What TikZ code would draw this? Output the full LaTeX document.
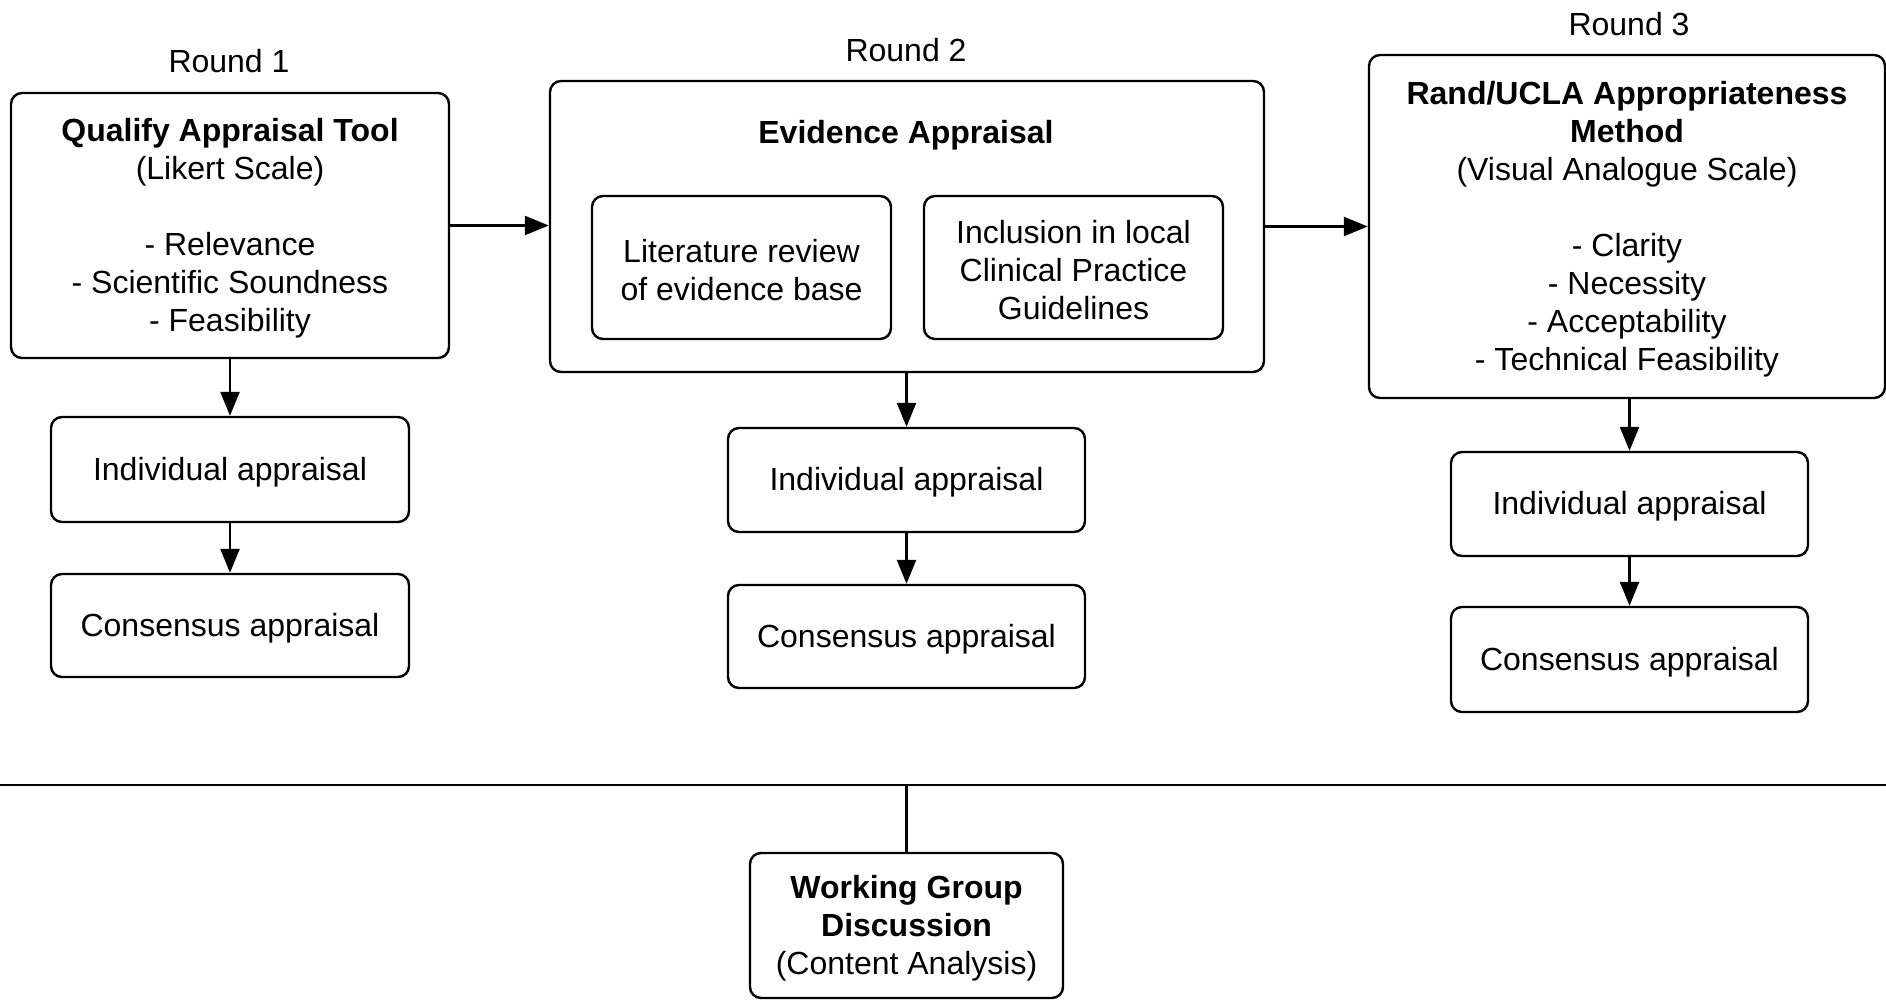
\documentclass[tikz,border=0pt]{standalone}
\usepackage{fontspec}
\setmainfont{Liberation Sans}
\usetikzlibrary{arrows.meta}
\newcommand{\dn}[1]{\raisebox{-2.5pt}[\height][\depth]{#1}}
\begin{document}
\begin{tikzpicture}[x=1pt,y=-1pt,
  txt/.style={font=\fontsize{32}{38}\selectfont, align=center},
  box/.style={draw, line width=2.4pt, rounded corners=11pt, inner sep=0pt, txt},
  conn/.style={line width=2.4pt, -{Triangle[length=24pt,width=19pt]}},
  plain/.style={line width=2.4pt}]
\useasboundingbox (0,0) rectangle (1886,1001);
% Round labels
\node[txt] (r1) at (229,61) {Round 1};
\node[txt] (r2) at (906,50) {Round 2};
\node[txt] (r3) at (1629,24) {Round 3};
% Main boxes
\node[box, minimum width=438pt, minimum height=265pt] (b1) at (230,225.5)
  {\dn{\parbox{430pt}{\centering\textbf{Qualify Appraisal Tool}\\(Likert Scale)\\[38pt]- Relevance\\- Scientific Soundness\\- Feasibility}}};
\node[box, minimum width=714pt, minimum height=291pt] (b2) at (907,226.5) {};
\node[txt] (b2t) at (906,135) {\textbf{Evidence Appraisal}};
\node[box, minimum width=299pt, minimum height=143pt] (lit) at (741.5,267.5)
  {\dn{\parbox{290pt}{\centering Literature review\\of evidence base}}};
\node[box, minimum width=299pt, minimum height=143pt] (inc) at (1073.5,267.5)
  {\dn{\parbox{290pt}{\centering Inclusion in local\\Clinical Practice\\Guidelines}}};
\node[box, minimum width=516pt, minimum height=343pt] (b3) at (1627,226.5)
  {\dn{\parbox{505pt}{\centering\textbf{Rand/UCLA Appropriateness}\\\textbf{Method}\\(Visual Analogue Scale)\\[38pt]- Clarity\\- Necessity\\- Acceptability\\- Technical Feasibility}}};
% Sub boxes
\node[box, minimum width=358pt, minimum height=105pt] (i1) at (230,469.5) {\dn{Individual appraisal}};
\node[box, minimum width=358pt, minimum height=103pt] (c1) at (230,625.5) {\dn{Consensus appraisal}};
\node[box, minimum width=357pt, minimum height=104pt] (i2) at (906.5,480) {\dn{Individual appraisal}};
\node[box, minimum width=357pt, minimum height=103pt] (c2) at (906.5,636.5) {\dn{Consensus appraisal}};
\node[box, minimum width=357pt, minimum height=104pt] (i3) at (1629.5,504) {\dn{Individual appraisal}};
\node[box, minimum width=357pt, minimum height=105pt] (c3) at (1629.5,659.5) {\dn{Consensus appraisal}};
% Working group
\node[box, minimum width=313pt, minimum height=145pt] (wg) at (906.5,925.5)
  {\dn{\parbox{305pt}{\centering\textbf{Working Group}\\\textbf{Discussion}\\(Content Analysis)}}};
% Connectors
\draw[conn] (b1.east) -- (b1.east -| b2.west);
\draw[conn] (b2.east) -- (b2.east -| b3.west);
\draw[conn] (b1.south) -- (i1.north);
\draw[conn] (i1.south) -- (c1.north);
\draw[conn] (i2.north |- b2.south) -- (i2.north);
\draw[conn] (i2.south) -- (c2.north);
\draw[conn] (i3.north |- b3.south) -- (i3.north);
\draw[conn] (i3.south) -- (c3.north);
% Horizontal line and link to working group
\coordinate (hl) at (0,785);
\coordinate (hr) at (1886,785);
\draw[plain] (hl) -- (hr);
\draw[plain] (wg.north |- hl) -- (wg.north);
\end{tikzpicture}
\end{document}
